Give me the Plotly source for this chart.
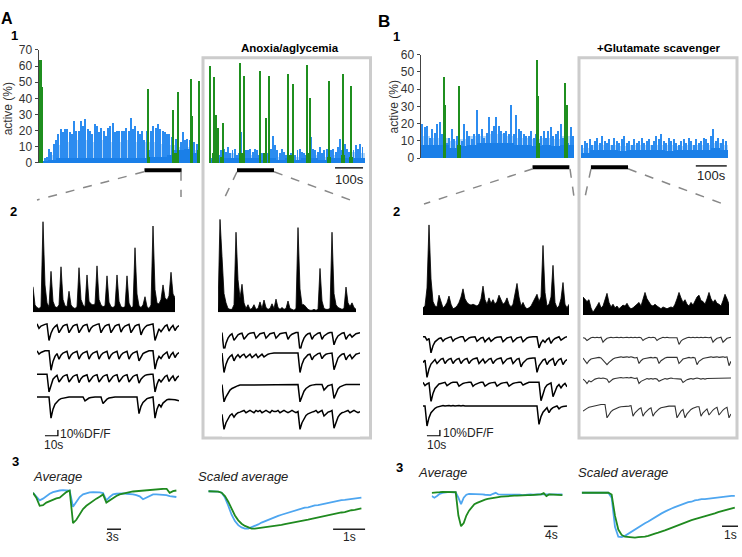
import plotly.graph_objects as go

FONT = "Liberation Sans, Arial, sans-serif"
W, H = 742, 557

BLUE = '#2c8cf0'
BLUE_LIGHT = '#b4d7f8'
BLUE_DARK = '#1a7fe8'
GREEN = '#1f8f1f'
AVG_BLUE = '#4ea6f0'
AVG_GREEN = '#1f8a1f'

# ------------------------------------------------------------------ DATA
BIN_S = 8      # s per activity bin
FILL_S = 30    # s per coarse background bin

# Panel 1: % active cells (spikes per 8-s bin, background per 30-s bin)
a1_ctrl_spikes = [2, 3, 3, 4, 9, 7, 12, 14, 18, 21, 19, 21, 21, 19, 18, 26, 20, 20, 26, 23, 27, 21, 20, 18,
                  24, 23, 19, 22, 20, 17, 22, 23, 25, 19, 20, 20, 20, 20, 22, 20, 28, 21, 23, 20, 18, 20, 14, 20,
                  8, 20, 23, 22, 24, 21, 20, 19, 18, 18, 16, 8, 15, 10, 13, 19, 14, 15, 14, 9, 13, 12, 10]
a1_ctrl_fill = [1, 5, 11, 13, 14, 14, 13, 14, 13, 13, 14, 13, 13, 13, 12, 11, 10, 10, 8]
a1_ctrl_base = [1, 2, 3, 3, 3, 3, 3, 3, 3, 3, 3, 3, 3, 4, 4, 5, 8, 9, 6]
a1_ctrl_green_t = [2, 6, 11, 386, 472, 490, 536, 540, 563, 567]
a1_ctrl_green_h = [64, 64, 47, 46, 33, 44, 52, 29, 51, 25]
a1_ctrl_gbase_t = [8, 386, 480, 538, 565]
a1_ctrl_gbase_h = [3, 4, 6, 10, 8]

a1_anox_spikes = [3, 3, 4, 6, 5, 8, 9, 7, 10, 6, 8, 9, 5, 6, 19, 12, 8, 8, 9, 7, 9, 8, 5, 6, 4, 7, 6, 9,
                  17, 11, 8, 6, 9, 7, 5, 4, 6, 3, 5, 8, 9, 7, 6, 5, 4, 16, 9, 8, 7, 10, 6, 8, 9, 6, 8, 9, 7,
                  10, 15, 8, 12, 9, 7, 10, 8, 11, 9, 12, 10]
a1_anox_fill = [3, 5, 6, 5, 5, 5, 4, 5, 4, 5, 4, 5, 5, 4, 5, 6, 6, 7, 6]
a1_anox_base = [2, 3, 3, 3, 3, 3, 2, 3, 2, 3, 2, 3, 3, 2, 3, 3, 3, 3, 3]
a1_anox_green_t = [4, 18, 25, 33, 50, 111, 125, 182, 203, 214, 282, 300, 350, 361, 428, 478, 507]
a1_anox_green_h = [60, 53, 30, 22, 25, 62, 54, 57, 28, 54, 55, 49, 61, 40, 51, 55, 48]
a1_anox_gbase_t = [15, 45, 118, 198, 290, 355, 428, 478, 507]
a1_anox_gbase_h = [6, 4, 6, 6, 5, 6, 4, 5, 4]

b1_ctrl_spikes = [20, 18, 19, 12, 17, 15, 20, 21, 14, 6, 9, 12, 17, 11, 13, 6, 10, 20, 16, 13, 11, 14, 28, 14,
                  17, 12, 15, 24, 16, 19, 24, 19, 16, 15, 16, 14, 31, 14, 25, 17, 16, 14, 13, 13, 16, 12, 14, 5,
                  13, 16, 12, 16, 18, 13, 14, 16, 20, 12, 8, 9, 18, 13]
b1_ctrl_fill = [13, 12, 12, 10, 11, 13, 13, 14, 14, 13, 12, 12, 11, 12, 11, 13, 12]
b1_ctrl_base = [8, 8, 8, 6, 7, 8, 9, 9, 9, 9, 8, 8, 7, 8, 7, 8, 8]
b1_ctrl_green_t = [74, 78, 123, 375, 379, 465, 472]
b1_ctrl_green_h = [47, 31, 42, 57, 36, 44, 31]
b1_ctrl_gbase_t = [76, 123, 377, 468]
b1_ctrl_gbase_h = [8, 8, 9, 12]

b1_glu_spikes = [8, 10, 9, 11, 8, 10, 12, 9, 13, 10, 9, 11, 8, 12, 10, 9, 11, 13, 9, 10, 8, 11, 9, 10, 12, 9,
                 10, 11, 8, 10, 13, 11, 14, 10, 9, 12, 10, 11, 9, 8, 10, 11, 9, 12, 10, 8, 11, 9, 10, 12, 11,
                 9, 13, 17, 10, 12, 9, 11, 10]
b1_glu_fill = [6, 8, 8, 8, 7, 8, 8, 8, 8, 8, 7, 8, 8, 8, 9, 8]
b1_glu_base = [3, 5, 5, 5, 4, 5, 5, 5, 5, 4, 5, 5, 5, 5, 6, 5]

# segment shown in panel 2 (s)
a1_ctrl_segment = [374, 505]
a1_anox_segment = [100, 232]
b1_ctrl_segment = [362, 481]
b1_glu_segment = [32, 152]

# Panel 2: population activity (normalised, 0-100)
a2_ctrl = [28, 8, 5, 4, 6, 100, 30, 10, 6, 45, 12, 6, 5, 8, 50, 14, 7, 6, 23, 8, 5, 4, 6, 49, 14, 8, 6, 41,
           12, 9, 8, 9, 51, 14, 8, 6, 7, 40, 11, 6, 5, 7, 41, 12, 6, 5, 6, 40, 10, 5, 6, 71, 20, 7, 5, 8, 17,
           6, 4, 8, 95, 25, 10, 9, 14, 30, 16, 13, 18, 44, 20, 16]
a2_anox = [2, 100, 60, 20, 10, 4, 3, 3, 8, 86, 35, 15, 30, 10, 4, 8, 3, 4, 8, 3, 4, 11, 4, 13, 5, 3, 4, 9, 4,
           14, 5, 3, 5, 3, 4, 12, 4, 3, 2, 4, 91, 25, 8, 8, 5, 3, 2, 2, 3, 2, 3, 47, 12, 4, 3, 3, 4, 86, 20,
           8, 5, 4, 3, 4, 27, 10, 6, 10, 5, 3]
b2_ctrl = [8, 10, 30, 100, 40, 15, 10, 9, 22, 14, 8, 10, 14, 21, 12, 7, 8, 10, 14, 20, 29, 18, 14, 12, 11,
           12, 11, 10, 12, 18, 32, 17, 12, 19, 13, 17, 12, 15, 22, 16, 12, 14, 19, 12, 9, 12, 22, 35, 20, 10,
           14, 9, 7, 8, 10, 14, 18, 23, 15, 20, 77, 25, 10, 12, 20, 55, 14, 8, 10, 18, 36, 12, 8, 12]
b2_glu = [20, 18, 15, 17, 8, 3, 6, 10, 14, 8, 10, 16, 24, 14, 9, 12, 8, 10, 7, 9, 11, 10, 13, 9, 7, 8, 10,
          12, 14, 10, 18, 25, 18, 15, 11, 10, 12, 10, 8, 7, 9, 8, 7, 8, 9, 8, 12, 18, 25, 19, 14, 17, 12, 10,
          14, 11, 15, 20, 22, 16, 15, 12, 18, 25, 18, 14, 17, 13, 12, 10, 16, 23, 18, 12]

# Panel 2: single-cell DF/F traces (%)
TRACE_DT = 1.667  # s per sample
a_ctrl_cells = [
    [0, -8, -4, -2, -1, 0, -30, -17, -9, -5, -2, -16, -9, -4, -2, -1, -16, -9, -4, -2, -1, -16, -9, -4, -2,
     -1, -15, -8, -4, -2, -1, 0, -16, -9, -4, -2, -1, -16, -9, -4, -2, -1, -15, -8, -4, -2, -1, -16, -9, -4,
     -2, -1, -20, -11, -6, -3, -2, -1, 0, -30, -17, -9, -14, -8, -4, -2, -13, -7, -3, -12, -6, -3],
    [0, -6, -3, -1, 0, 0, 0, -35, -19, -10, -5, -15, -8, -4, -2, -1, -15, -8, -4, -2, -1, -15, -8, -4, -2,
     -1, -15, -8, -4, -2, -1, -15, -8, -4, -2, -1, -15, -8, -4, -2, -1, -15, -8, -4, -2, -1, -15, -8, -4, -2,
     -1, -18, -10, -5, -3, -1, 0, 0, 0, -33, -18, -10, -14, -8, -4, -2, -14, -7, -3, -12, -6, -3],
    [0, 0, 1, 0, 0, 0, -32, -18, -9, -5, -2, -14, -8, -4, -2, -1, -14, -8, -4, -2, -1, -15, -8, -4, -2, -1,
     -14, -8, -4, -2, -1, -14, -8, -4, -2, -1, -14, -8, -4, -2, -1, -14, -8, -4, -2, -1, -14, -8, -4, -2, -1,
     -16, -9, -5, -2, -1, 0, 0, 0, -32, -18, -9, -14, -8, -4, -2, -13, -7, -3, -12, -6, -3],
    [0, 0, 0, 0, 0, 0, 0, -38, -22, -13, -8, -5, -3, -2, -1, -1, 0, 0, 0, 0, 0, 0, 0, 0, -7, -4, -2, -1, 0,
     0, 0, 0, 0, -12, -7, -4, -2, -1, 0, 0, 0, 0, 0, 0, 0, 0, 0, 0, 0, 0, 0, -30, -17, -10, -6, -3, -2, -1,
     0, -38, -22, -13, -18, -11, -7, -5, -4, -4, -4, -5, -6, -7],
]
a_anox_cells = [
    [0, -34, -19, -10, -5, -2, -14, -8, -4, -2, -1, -12, -7, -3, -1, 0, 0, -10, -5, -2, -1, 0, -10, -5, -2,
     -1, 0, -10, -5, -2, -1, 0, 0, -12, -6, -3, -1, 0, 0, -34, -19, -10, -5, -2, -1, -12, -6, -3, -1, 0, -12,
     -6, -3, -1, 0, 0, -22, -12, -6, -3, -1, 0, -12, -6, -3, -8, -4, -2, -1, 0],
    [0, -35, -20, -11, -6, -3, -14, -7, -3, -8, -4, -2, -8, -4, -2, -8, -4, -2, -8, -4, -2, -7, -4, -2, -1,
     0, 0, 0, 0, 0, 0, 0, 0, 0, 0, 0, 0, 0, 0, -35, -20, -11, -6, -3, -2, -12, -6, -3, -1, 0, -10, -5, -2,
     -1, 0, 0, -30, -17, -9, -5, -2, -1, -12, -6, -3, -10, -5, -2, -1, 0],
    [0, -31, -22, -15, -10, -7, -5, -3, -2, -1, -1, 0, 0, 0, 0, 0, 0, 0, 0, 0, 0, 0, 0, 0, 0, 0, 0, 0, 0, 0,
     0, 0, 0, 0, 0, 0, 0, 0, 0, -31, -20, -12, -7, -4, -2, -1, 0, 0, 0, 0, 0, -10, -5, -2, -1, 0, -25, -15,
     -8, -4, -2, -1, 0, 0, 0, 0, 0, 0, 0, 0],
    [-5, -32, -20, -12, -7, -4, -10, -5, -2, -1, 0, 2, -2, 0, 2, 0, -2, 2, 0, 2, -2, 0, 2, 0, -2, 2, 0, 0, 2,
     -2, 0, 2, 0, -2, 0, 2, 0, -2, 0, -32, -20, -12, -7, -4, -2, -1, 0, 2, -2, 0, 2, -8, -4, -1, 0, 2, -30,
     -18, -10, -5, -2, -1, 0, 2, -2, 0, 2, 0, -2, 0],
]
b_ctrl_cells = [
    [0, 0, -6, -3, -29, -16, -9, -5, -3, -2, -8, -4, -2, -1, 0, -8, -4, -2, -1, 0, 0, -8, -4, -2, -1, 0, 0,
     -8, -4, -2, -1, -9, -5, -2, -8, -4, -2, -1, 0, 0, -9, -5, -2, -1, 0, -9, -5, -2, -1, 0, -9, -5, -2, -1,
     0, 0, 0, 0, -20, -11, -6, -10, -5, -2, -12, -6, -3, -1, 0, -6, -3, -1, 0],
    [-8, -4, -35, -20, -11, -6, -3, -10, -5, -2, -1, -10, -5, -2, -1, -10, -5, -2, -1, -10, -5, -2, -1, -10,
     -5, -2, -1, 0, -10, -5, -2, -9, -5, -2, -1, -10, -5, -2, -1, 0, -10, -5, -2, -1, 0, -10, -5, -2, -1,
     -16, -9, -5, -2, -1, 0, 0, 0, -26, -14, -8, -4, -2, -12, -6, -3, -1, -14, -7, -3, -1, -12, -6, -3],
    [0, -6, -3, -1, -35, -20, -11, -6, -3, -2, -1, 0, -6, -3, -1, 0, 0, 0, -7, -4, -2, -1, 0, 0, 0, -7, -4,
     -2, -1, 0, 0, -7, -4, -2, -1, 0, 0, -7, -4, -2, -1, 0, 0, -7, -4, -2, -1, 0, 0, 0, -5, -3, -1, 0, 0, 0,
     0, 0, 0, -33, -19, -10, -5, -3, -1, -26, -15, -8, -4, -10, -5, -2, -8],
    [0, 0, -36, -21, -12, -7, -4, -2, -1, 0, 1, 0, 1, 1, 0, 1, 0, 1, 1, 0, 1, 0, 0, 1, 1, 0, 1, 0, 1, 1, 0,
     1, 1, 0, 1, 0, 0, 1, 0, 1, 1, 0, 1, 0, 1, 1, 0, 1, 0, 0, 1, 0, 1, 0, 0, 1, 0, 0, -33, -19, -11, -6, -3,
     -12, -6, -3, -1, 0, -5, -2, -1, 0, 0],
]
b_glu_cells = [
    [0, -1, -5, -2, 0, 1, 0, 1, 0, 1, -8, -4, -1, 0, 1, 0, 1, 1, 0, 1, 0, 1, 1, 0, 1, 0, 1, 0, 1, 0, -5, -2,
     0, 1, 0, 1, 0, -5, -2, 0, 1, 0, 1, 0, 0, 1, 0, 0, -12, -6, -3, -1, 0, 1, 0, 1, 0, 1, 0, 1, 0, 1, 0, 0,
     1, -8, -4, -1, 0, 1, -8, -4, -1, 0, 1],
    [0, -4, -10, -5, -2, -1, 0, 1, 1, 0, -4, -8, -12, -8, -4, -2, 0, 1, 1, 2, 1, 2, 2, 1, 2, 1, 0, 1, -10,
     -5, -2, -1, 0, 1, 1, 0, 1, 0, -10, -5, -2, 0, 1, 1, 2, 1, 2, 1, -10, -5, -2, -1, 0, 1, 0, 1, 0, -12,
     -6, -3, -1, 0, 1, 1, 2, 1, 2, 2, 1, 2, 2, 1, 2, -14, -6],
    [0, -3, -8, -3, -5, -2, 0, 1, 2, 1, 2, 1, 0, -6, -3, 0, 1, 2, 2, 3, 2, 3, 3, 2, 3, 2, 1, 2, -8, -4, -2,
     0, 1, 0, 1, 0, 1, 0, -4, -2, 0, 1, 0, 1, 2, 1, 1, 0, 1, 0, -6, -3, -1, 0, 1, 0, 1, 2, 1, 0, 1, 0, 1, 1,
     2, 1, 1, 2, 1, 2, 1, 2, 2, 1, 2],
    [-8, -5, -3, -1, 0, 1, 2, 3, 3, 4, 4, 4, -20, -14, -9, -6, -4, -2, -1, 0, 0, 1, 1, 1, 2, -17, -11, -7,
     -4, -2, -17, -11, -7, -4, -2, -17, -11, -7, -4, -2, -1, 0, 0, 1, 1, 1, 1, -20, -13, -8, -5, -20, -13,
     -8, -5, -3, -1, 0, 0, -17, -11, -7, -4, -15, -10, -6, -3, -1, -15, -10, -6, -3, -1, -20, -13],
]

# Panel 3: averaged events (blue = control, green = anoxia / first condition)
A_AVG_DT = 0.714
a3_avg_blue = [-5, -15, -28, -23, -15, -8, -3, 0, 2, 3, 3, 2, -48, -32, -18, -10, -6, -4, -3, -3, -4, -6,
               -28, -18, -10, -8, -7, -7, -8, -8, -10, -12, -16, -25, -20, -13, -10, -10, -10, -11, -12, -15,
               -17, -18]
a3_avg_green = [-5, -20, -45, -43, -35, -30, -25, -22, -20, -10, -3, 2, -98, -88, -70, -55, -45, -37, -30,
                -23, -17, -10, -35, -28, -20, -15, -10, -7, -5, -3, -1, 0, 2, 3, 4, 5, 6, 7, 8, 9, 8, -5, 0, 2]
A_SCL_DT = 0.104
a3_scl_blue = [0, 0, 0, -1, -4, -17, -39, -63, -80, -91, -97, -100, -100, -97, -93, -89, -84, -80, -77, -73,
               -70, -66, -63, -60, -57, -55, -52, -50, -47, -44, -43, -40, -38, -37, -35, -33, -31, -30, -28,
               -26, -24, -23, -22, -21, -19, -18, -17]
a3_scl_green = [0, 0, 0, -1, -4, -13, -28, -48, -65, -78, -87, -93, -97, -100, -100, -99, -98, -97, -96, -95,
                -93, -91, -90, -88, -86, -84, -83, -81, -79, -77, -76, -74, -72, -70, -69, -67, -65, -63, -62,
                -60, -57, -56, -53, -51, -50, -48, -46]
B_AVG_DT = 0.78
b3_avg_blue = [-12, -17, -12, -5, -2, 0, 0, 0, 0, -1, -17, -37, -17, -8, -5, -5, -6, -7, -7, -7, -8, -8, -9,
               -5, -2, -7, -7, -7, -6, -7, -7, -8, -7, -8, -9, -8, -7, -7, -8, -7, -7, -6, -7, -7, -8, -7, -7,
               -8, -7, -7]
b3_avg_green = [-2, -2, -1, 0, 1, 1, 1, 1, 1, 0, -72, -105, -95, -72, -57, -45, -37, -33, -29, -26, -23, -21,
                -19, -17, -16, -15, -14, -13, -13, -12, -12, -11, -11, -10, -10, -9, -9, -9, -8, -8, -8, -7,
                -3, -12, -7, -7, -7, -8, -9, -9]
B_SCL_DT = 0.208
b3_scl_blue = [0, 0, 0, 0, 0, 0, 0, 0, 0, -11, -76, -98, -99, -96, -91, -86, -81, -77, -72, -68, -64, -59, -55,
               -51, -46, -42, -38, -35, -32, -29, -26, -23, -21, -20, -17, -16, -14, -14, -13, -12, -11, -10,
               -9, -9, -8, -7, -7]
b3_scl_green = [0, 0, 0, 0, 0, 0, 0, 0, 0, -4, -51, -82, -94, -98, -99, -100, -100, -99, -99, -98, -96, -93,
                -91, -89, -87, -84, -81, -78, -75, -72, -70, -67, -64, -61, -59, -57, -54, -52, -50, -48, -46,
                -43, -41, -39, -37, -35, -33]

# scale-bar sizes (data units)
SCALE_T_ACT = 100
SCALE_DFF = 10
SCALE_T_DFF = 10
SCALE_A_AVG = 3
SCALE_SCL = 1
SCALE_B_AVG = 4

# ------------------------------------------------------------------ FIGURE
fig = go.Figure()
layout = dict(width=W, height=H, margin=dict(l=0, r=0, t=0, b=0), paper_bgcolor='white',
              plot_bgcolor='white', showlegend=False, barmode='overlay', bargap=0,
              font=dict(family=FONT, color='black'))
shapes = []
annotations = []
_n = [0]


def fx(px):
    return px / W


def fy(py):
    return 1 - py / H


def new_axes(xpx, ypx, xr, yr):
    _n[0] += 1
    s = '' if _n[0] == 1 else str(_n[0])
    layout['xaxis' + s] = dict(domain=[fx(xpx[0]), fx(xpx[1])], range=xr, visible=False,
                               anchor='y' + s, fixedrange=True)
    layout['yaxis' + s] = dict(domain=[fy(ypx[1]), fy(ypx[0])], range=yr, visible=False,
                               anchor='x' + s, fixedrange=True)
    return 'x' + s, 'y' + s, 'xaxis' + s, 'yaxis' + s


def show_yaxis(key, vals):
    layout[key].update(visible=True, showline=True, linecolor='#444', linewidth=1, ticks='outside',
                       ticklen=3, tickwidth=1, tickcolor='#444', tickvals=vals, showgrid=False,
                       zeroline=False, tickfont=dict(family=FONT, size=12, color='#333'))


def activity(xa, ya, spikes, fill, base, g_t=(), g_h=(), gb_t=(), gb_h=()):
    fig.add_bar(x=[(i + 0.5) * FILL_S for i in range(len(fill))], y=fill, width=FILL_S,
                marker=dict(color=BLUE_LIGHT, line_width=0), xaxis=xa, yaxis=ya)
    fig.add_bar(x=[(i + 0.5) * BIN_S for i in range(len(spikes))], y=spikes, width=BIN_S * 0.42,
                marker=dict(color=BLUE, line_width=0), xaxis=xa, yaxis=ya)
    fig.add_bar(x=[(i + 0.5) * FILL_S for i in range(len(base))], y=base, width=FILL_S,
                marker=dict(color=BLUE_DARK, line_width=0), xaxis=xa, yaxis=ya)
    if gb_t:
        fig.add_bar(x=list(gb_t), y=list(gb_h), width=12, marker=dict(color=GREEN, line_width=0),
                    xaxis=xa, yaxis=ya)
    if g_t:
        fig.add_bar(x=list(g_t), y=list(g_h), width=3.5, marker=dict(color=GREEN, line_width=0),
                    xaxis=xa, yaxis=ya)


def hline_data(xref, t0, t1, py, width=1.5, color='#222'):
    shapes.append(dict(type='line', xref=xref, yref='paper', x0=t0, x1=t1, y0=fy(py), y1=fy(py),
                       line=dict(color=color, width=width)))


# --- panel 1 -------------------------------------------------------------
xa, ya, kx, ky = new_axes((38.5, 200), (44, 160), [0, 570], [0, 70])
show_yaxis(ky, list(range(0, 71, 10)))
activity(xa, ya, a1_ctrl_spikes, a1_ctrl_fill, a1_ctrl_base, a1_ctrl_green_t, a1_ctrl_green_h,
         a1_ctrl_gbase_t, a1_ctrl_gbase_h)
hline_data(xa, a1_ctrl_segment[0], a1_ctrl_segment[1], 167.5, width=4, color='black')

xa, ya, kx, ky = new_axes((209, 365), (44, 160), [0, 557], [0, 70])
activity(xa, ya, a1_anox_spikes, a1_anox_fill, a1_anox_base, a1_anox_green_t, a1_anox_green_h,
         a1_anox_gbase_t, a1_anox_gbase_h)
hline_data(xa, a1_anox_segment[0], a1_anox_segment[1], 167.5, width=4, color='black')
hline_data(xa, 450, 450 + SCALE_T_ACT, 165)

xa, ya, kx, ky = new_axes((420.5, 574), (49, 155), [0, 496], [0, 60])
show_yaxis(ky, list(range(0, 61, 10)))
activity(xa, ya, b1_ctrl_spikes, b1_ctrl_fill, b1_ctrl_base, b1_ctrl_green_t, b1_ctrl_green_h,
         b1_ctrl_gbase_t, b1_ctrl_gbase_h)
hline_data(xa, b1_ctrl_segment[0], b1_ctrl_segment[1], 164.5, width=4, color='black')

xa, ya, kx, ky = new_axes((581, 728), (49, 155), [0, 475], [0, 60])
activity(xa, ya, b1_glu_spikes, b1_glu_fill, b1_glu_base)
hline_data(xa, b1_glu_segment[0], b1_glu_segment[1], 164.5, width=4, color='black')
hline_data(xa, 371, 371 + SCALE_T_ACT, 163)

# --- panel 2: population -----------------------------------------------------
for vals, xpx, ypx in [(a2_ctrl, (33, 175), (220, 313)), (a2_anox, (218, 356), (217.7, 313)),
                       (b2_ctrl, (423, 569), (223.3, 316)), (b2_glu, (583, 729), (223.3, 316))]:
    xa, ya, kx, ky = new_axes(xpx, ypx, [0, len(vals) - 1], [0, 100])
    fig.add_scatter(x=list(range(len(vals))), y=vals, mode='lines', fill='tozeroy', fillcolor='black',
                    line=dict(color='black', width=0.8), xaxis=xa, yaxis=ya)

# --- panel 2: single cells --------------------------------------------------
PX_PER_PCT = 0.57
YR = [-45, 8]


def cell_rows(cells, x0, baselines, color='black', width=1.5):
    for vals, b in zip(cells, baselines):
        span = (len(vals) - 1) * TRACE_DT
        xa, ya, kx, ky = new_axes((x0, x0 + 2 * (len(vals) - 1)),
                                  (b - YR[1] * PX_PER_PCT, b - YR[0] * PX_PER_PCT), [0, span], YR)
        fig.add_scatter(x=[i * TRACE_DT for i in range(len(vals))], y=vals, mode='lines',
                        line=dict(color=color, width=width), xaxis=xa, yaxis=ya)


cell_rows(a_ctrl_cells, 37, [325, 352.7, 376.7, 400])
cell_rows(a_anox_cells, 222, [334, 355, 387.3, 415])
cell_rows(b_ctrl_cells, 423, [338.3, 360, 385, 409.3])
cell_rows(b_glu_cells, 583, [339.3, 360, 381.7, 410], color='#333', width=1.1)


def dff_scale(x_right, y_bottom):
    pxs = 2 / TRACE_DT
    xa, ya, kx, ky = new_axes((x_right - (SCALE_T_DFF + 1) * pxs, x_right + pxs),
                              (y_bottom - (SCALE_DFF + 1) * PX_PER_PCT, y_bottom + PX_PER_PCT),
                              [-SCALE_T_DFF, 1], [-1, SCALE_DFF])
    fig.add_scatter(x=[-SCALE_T_DFF, 0, 0], y=[0, 0, SCALE_DFF], mode='lines',
                    line=dict(color='black', width=1.3), xaxis=xa, yaxis=ya)


dff_scale(58, 440)
dff_scale(440, 440)

# --- panel 3: averages --------------------------------------------------------


def avg_panel(blue, green, dt, xpx, px_per_s, ypx, yr, scale_s, scale_t0, scale_py):
    span = (xpx[1] - xpx[0]) / px_per_s
    xa, ya, kx, ky = new_axes(xpx, ypx, [0, span], yr)
    fig.add_scatter(x=[i * dt for i in range(len(blue))], y=blue, mode='lines',
                    line=dict(color=AVG_BLUE, width=1.8), xaxis=xa, yaxis=ya)
    fig.add_scatter(x=[i * dt for i in range(len(green))], y=green, mode='lines',
                    line=dict(color=AVG_GREEN, width=1.8), xaxis=xa, yaxis=ya)
    hline_data(xa, scale_t0, scale_t0 + scale_s, scale_py)


avg_panel(a3_avg_blue, a3_avg_green, A_AVG_DT, (33, 178), 4.67, (493.3, 531.7), [-105, 10],
          SCALE_A_AVG, 15.85, 535.7)
avg_panel(a3_scl_blue, a3_scl_green, A_SCL_DT, (208.3, 365.7), 32, (494.8, 536.9), [-105, 5],
          SCALE_SCL, 3.9, 535.7)
avg_panel(b3_avg_blue, b3_avg_green, B_AVG_DT, (431.7, 563), 3.42, (496, 534.3), [-110, 5],
          SCALE_B_AVG, 32.8, 532.7)
avg_panel(b3_scl_blue, b3_scl_green, B_SCL_DT, (581.7, 738.5), 16, (496, 546.6), [-105, 5],
          SCALE_SCL, 8.77, 532.7)

# --- decorations -------------------------------------------------------------
for x0, x1 in [(203, 370.5), (579, 737)]:
    shapes.append(dict(type='rect', xref='paper', yref='paper', x0=fx(x0), x1=fx(x1), y0=fy(442),
                       y1=fy(52), line=dict(color='#cccccc', width=3), fillcolor='rgba(0,0,0,0)',
                       layer='below'))

for (xa0, ya0), (xa1, ya1) in [((144, 169), (37, 198)), ((181, 169), (181, 195)),
                               ((237, 169), (223, 199)), ((274, 169), (353, 199)),
                               ((533, 166), (424, 202)), ((570, 166), (575, 202)),
                               ((591, 166), (584, 200)), ((628, 166), (723, 202))]:
    shapes.append(dict(type='line', xref='paper', yref='paper', x0=fx(xa0), y0=fy(ya0), x1=fx(xa1),
                       y1=fy(ya1), line=dict(color='#888888', width=1.5, dash='dash')))


def label(text, px, py, size=12, bold=False, italic=False, xanchor='center', angle=0, color='black'):
    t = text
    if bold:
        t = '<b>' + t + '</b>'
    if italic:
        t = '<i>' + t + '</i>'
    annotations.append(dict(text=t, x=fx(px), y=fy(py), xref='paper', yref='paper', showarrow=False,
                            xanchor=xanchor, yanchor='middle', textangle=angle, borderpad=0,
                            font=dict(family=FONT, size=size, color=color)))


label('A', 0, 12, size=16, bold=True, xanchor='left')
label('1', 15, 29, size=13, bold=True)
label('B', 384.5, 15, size=17, bold=True)
label('1', 397, 30, size=13, bold=True)
label('2', 13, 209.5, size=13, bold=True)
label('2', 397, 209.5, size=13, bold=True)
label('3', 15.5, 466, size=13, bold=True)
label('3', 399, 472, size=13, bold=True)
label('Anoxia/aglycemia', 289.5, 42.5, size=11.5, bold=True)
label('+Glutamate scavenger', 658.5, 42.5, size=11.5, bold=True)
label('100s', 349.5, 176.5, size=13, color='#222')
label('100s', 711.5, 172.5, size=13, color='#222')
label('active (%)', 8, 105, size=12, angle=-90, color='#333')
label('active (%)', 393.5, 102.5, size=12, angle=-90, color='#333')
label('10%DF/F', 58.5, 437.5, size=12, xanchor='left', color='#222')
label('10s', 53, 449, size=12, color='#222')
label('10%DF/F', 441.5, 437, size=12, xanchor='left', color='#222')
label('10s', 436, 449, size=12, color='#222')
label('Average', 32, 482, size=13, italic=True, xanchor='left', color='#222')
label('Scaled average', 197, 482, size=13, italic=True, xanchor='left', color='#222')
label('Average', 417, 478, size=13, italic=True, xanchor='left', color='#222')
label('Scaled average', 577, 478, size=13, italic=True, xanchor='left', color='#222')
label('3s', 112.5, 543.5, size=12, color='#222')
label('1s', 349, 543.5, size=12, color='#222')
label('4s', 551, 542, size=12, color='#222')
label('1s', 730, 542, size=12, color='#222')

layout['shapes'] = shapes
layout['annotations'] = annotations
fig.update_layout(**layout)
fig.update_traces(hoverinfo='skip')
fig.write_html("out.html", config={'displayModeBar': False})
